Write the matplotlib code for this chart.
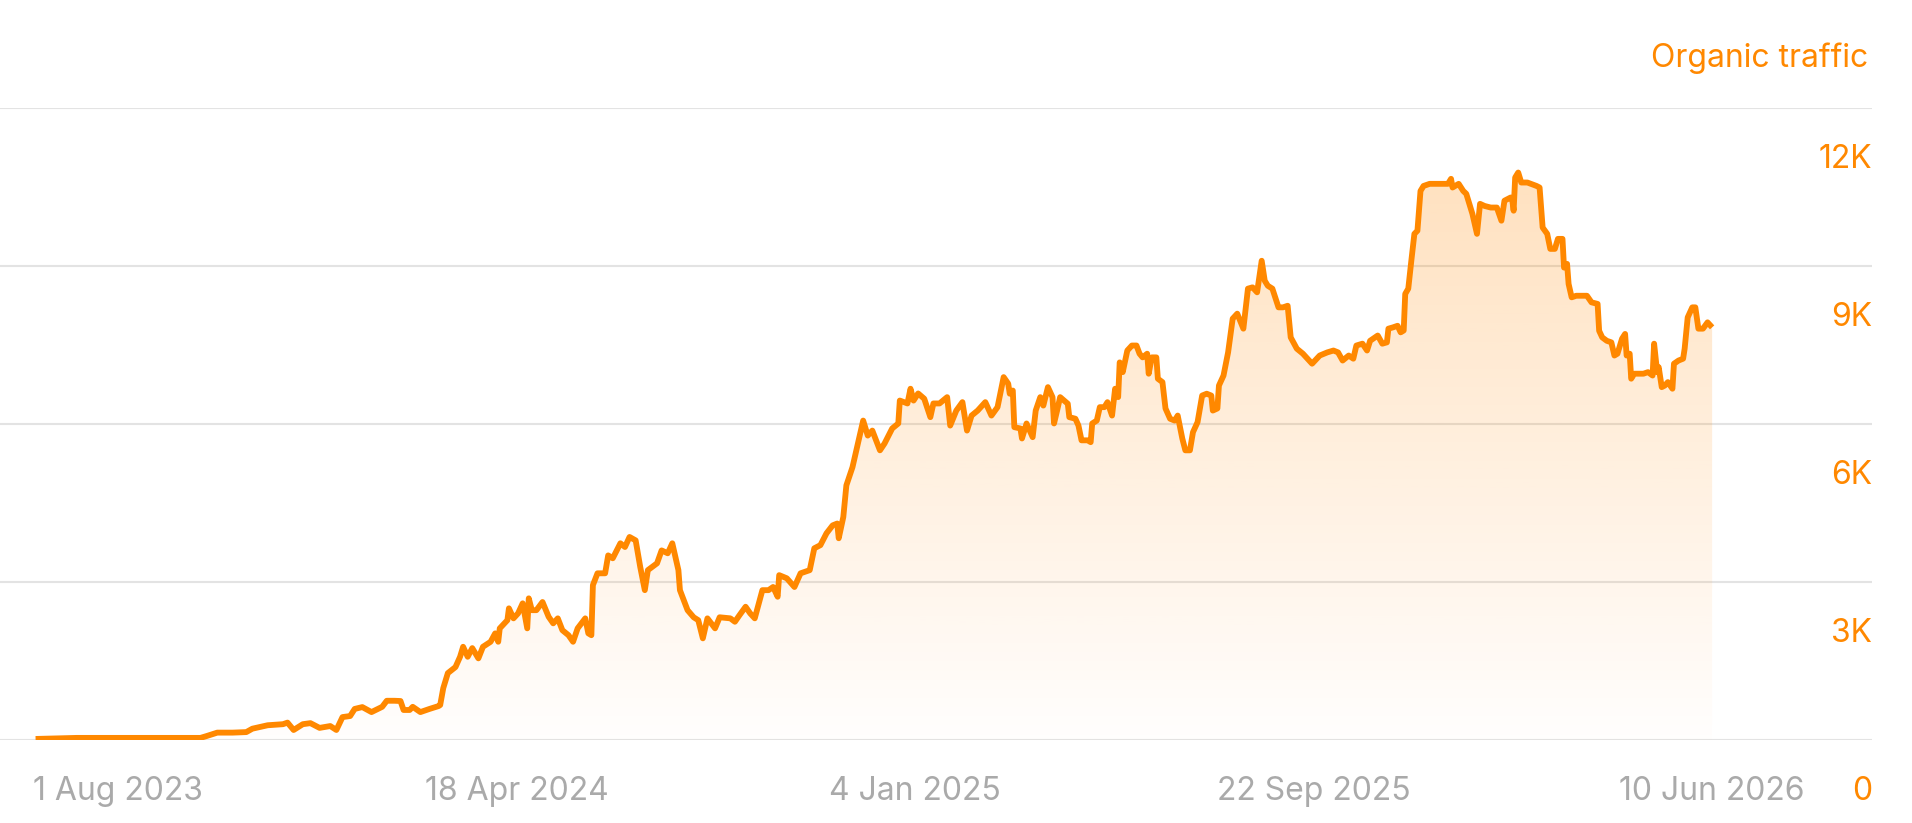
import numpy as np
import matplotlib.pyplot as plt
import matplotlib.transforms as mtransforms

# organic traffic, day offsets counted from 1 Aug 2023
start = np.datetime64('2023-08-01')
days = [-54, -27, 32, 54, 58, 65, 75, 84, 88, 98, 108, 111, 115, 121, 126, 132, 139, 143, 147, 152,
        155, 160, 166, 173, 176, 181, 185, 187, 191, 193, 198, 204, 210, 211, 213, 216, 221, 224, 226, 229,
        232, 236, 239, 244, 247, 249, 250, 255, 256, 259, 262, 265, 268, 269, 271, 274, 278, 282, 285, 288,
        291, 295, 298, 301, 306, 308, 310, 311, 314, 319, 321, 324, 329, 332, 335, 339, 342, 345, 347, 353,
        356, 360, 363, 367, 368, 373, 377, 380, 383, 386, 391, 394, 401, 404, 407, 411, 414, 417, 422, 426,
        429, 432, 433, 438, 443, 447, 453, 456, 460, 464, 468, 471, 472, 475, 477, 481, 484, 488, 491, 494,
        499, 502, 507, 511, 512, 517, 519, 521, 524, 528, 532, 534, 538, 543, 545, 549, 553, 556, 559, 563,
        568, 572, 576, 580, 583, 584, 586, 587, 591, 592, 595, 599, 601, 604, 606, 609, 612, 613, 615, 617,
        622, 623, 627, 629, 631, 635, 637, 638, 641, 643, 646, 648, 651, 653, 655, 656, 658, 661, 664, 667,
        669, 671, 674, 675, 677, 680, 681, 684, 686, 689, 692, 694, 697, 699, 702, 704, 707, 710, 713, 716,
        717, 720, 721, 724, 727, 730, 733, 737, 740, 743, 746, 749, 751, 753, 756, 760, 763, 766, 768, 772,
        776, 782, 787, 792, 796, 799, 802, 806, 809, 811, 815, 818, 820, 825, 828, 831, 832, 835, 838, 840,
        842, 843, 845, 847, 849, 851, 853, 855, 859, 864, 868, 871, 873, 874, 878, 881, 883, 887, 890, 892,
        895, 899, 903, 906, 908, 912, 913, 914, 915, 917, 919, 923, 929, 931, 933, 936, 938, 941, 943, 946,
        947, 949, 950, 952, 955, 962, 965, 969, 970, 972, 975, 978, 980, 982, 985, 987, 988, 990, 991, 993,
        995, 999, 1002, 1005, 1006, 1008, 1009, 1011, 1013, 1015, 1018, 1019, 1022, 1025, 1026, 1028, 1031, 1033, 1035, 1038,
        1041, 1044]
traffic = [20, 40, 40, 40, 75, 140, 140, 150, 215, 280, 300, 330, 190, 300, 320, 230, 265, 190, 435, 455,
           590, 625, 530, 630, 745, 745, 740, 570, 570, 630, 530, 590, 645, 665, 985, 1270, 1385, 1580, 1770, 1580,
           1745, 1550, 1770, 1865, 2025, 1865, 2120, 2275, 2500, 2310, 2405, 2595, 2120, 2690, 2465, 2465, 2620, 2340, 2215, 2310,
           2085, 1990, 1865, 2120, 2310, 2025, 1990, 2940, 3165, 3165, 3505, 3450, 3735, 3665, 3855, 3790, 3285, 2845, 3225, 3355,
           3600, 3545, 3735, 3225, 2845, 2465, 2330, 2275, 1930, 2310, 2120, 2330, 2310, 2245, 2370, 2530, 2405, 2310, 2845, 2845,
           2905, 2720, 3130, 3070, 2905, 3165, 3225, 3640, 3700, 3925, 4075, 4110, 3830, 4235, 4835, 5180, 5560, 6065, 5780, 5875,
           5500, 5630, 5915, 6010, 6445, 6390, 6670, 6445, 6580, 6480, 6130, 6390, 6390, 6510, 5970, 6255, 6415, 5875, 6160, 6255,
           6415, 6160, 6320, 6890, 6765, 6575, 6635, 5940, 5915, 5725, 6010, 5750, 6255, 6510, 6350, 6700, 6510, 6010, 6255, 6510,
           6385, 6130, 6100, 5970, 5690, 5690, 5655, 6010, 6065, 6320, 6320, 6415, 6160, 6670, 6510, 7170, 6985, 7395, 7490, 7490,
           7335, 7265, 7335, 6955, 7265, 7265, 6860, 6795, 6295, 6100, 6065, 6160, 5725, 5500, 5500, 5845, 6035, 6540, 6575, 6540,
           6255, 6295, 6730, 6920, 7360, 8000, 8095, 7810, 8570, 8595, 8500, 9100, 8720, 8625, 8570, 8215, 8215, 8245, 7645, 7430,
           7335, 7145, 7300, 7360, 7395, 7360, 7205, 7300, 7240, 7490, 7525, 7395, 7580, 7680, 7525, 7550, 7810, 7835, 7865, 7740,
           7775, 8470, 8570, 9100, 9610, 9670, 10425, 10520, 10560, 10560, 10560, 10560, 10655, 10490, 10560, 10425, 10370, 9990, 9610, 10180,
           10140, 10110, 10110, 9860, 10240, 10300, 10275, 10050, 10680, 10775, 10585, 10585, 10520, 10490, 9730, 9610, 9325, 9325, 9515, 9515,
           8970, 9040, 8660, 8405, 8435, 8435, 8310, 8280, 7770, 7645, 7580, 7550, 7300, 7335, 7620, 7710, 7300, 7335, 6860, 6955,
           6955, 6955, 6985, 6920, 7525, 6985, 7080, 6700, 6730, 6795, 6670, 7145, 7205, 7240, 7430, 8025, 8215, 8215, 7810, 7810,
           7930, 7835]

tick_dates = ['2023-08-01', '2024-04-18', '2025-01-04', '2025-09-22', '2026-06-10']
tick_labels = ['1 Aug 2023', '18 Apr 2024', '4 Jan 2025', '22 Sep 2025', '10 Jun 2026']
y_ticks = [0, 3000, 6000, 9000, 12000]
y_labels = ['0', '3K', '6K', '9K', '12K']

orange = '#ff8800'
grey = '#aaaaaa'

plt.rcParams['font.family'] = ['Inter', 'DejaVu Sans']

days = np.array(days)
traffic = np.array(traffic)
tick_days = (np.array(tick_dates, dtype='datetime64[D]') - start).astype(int)

fig = plt.figure(figsize=(19.12, 8.23), dpi=100)
ax = fig.add_axes([0, 83 / 823, 1872 / 1912, 632 / 823])
ax.set_axis_off()

for v in y_ticks:
    ax.axhline(v, color='#e3e3e3', lw=1.5, zorder=1)

# gradient fill under the line
xmin, xmax = days.min(), days.max()
grad = np.zeros((256, 1, 4))
grad[:, 0, 0] = 1.0
grad[:, 0, 1] = 0x88 / 255
grad[:, 0, 2] = 0.0
grad[:, 0, 3] = np.linspace(0.01, 0.28, 256)
img = ax.imshow(grad, extent=[xmin, xmax, 0, 12000], origin='lower', aspect='auto', zorder=2)
poly = ax.fill_between(days, traffic, 0, facecolor='none', edgecolor='none')
img.set_clip_path(poly.get_paths()[0], ax.transData)
ax.set_xlim(-77.3, 1148.7)
ax.set_ylim(0, 12000)

ax.plot(days, traffic, color=orange, lw=4.2, solid_joinstyle='round', solid_capstyle='butt', zorder=3)

# labels sit 60 px under their gridline
ytrans = mtransforms.offset_copy(ax.get_yaxis_transform(), fig=fig, y=-60, units='dots')
for v, lab in zip(y_ticks, y_labels):
    ax.text(1.0, v, lab, transform=ytrans, ha='right', va='baseline', color=orange, fontsize=23)

xtrans = mtransforms.offset_copy(ax.get_xaxis_transform(), fig=fig, y=-60, units='dots')
for d, lab in zip(tick_days, tick_labels):
    ax.text(d, 0, lab, transform=xtrans, ha='center', va='baseline', color=grey, fontsize=23)

fig.text(1868 / 1912, 1 - 67 / 823, 'Organic traffic', ha='right', va='baseline', color=orange, fontsize=23)

fig.savefig('out.png', dpi=100, facecolor='white')
